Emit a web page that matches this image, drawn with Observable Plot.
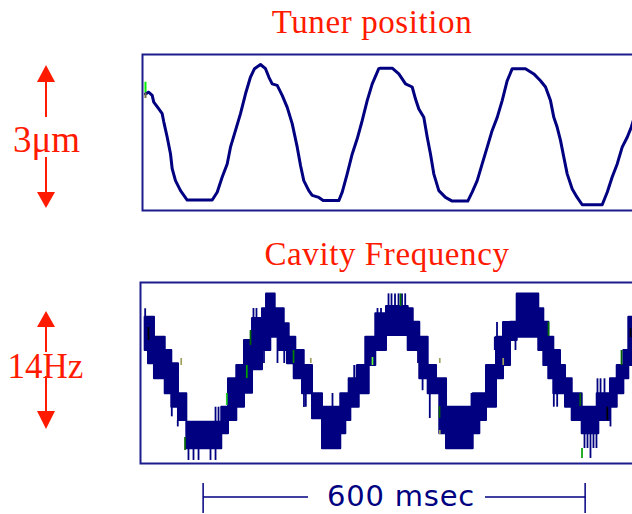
<!DOCTYPE html>
<html><head><meta charset="utf-8">
<script src="https://cdn.jsdelivr.net/npm/d3@7"></script>
<script src="https://cdn.jsdelivr.net/npm/@observablehq/plot@0.6"></script>
<style>
html,body{margin:0;padding:0;background:#fff;}
body{width:632px;height:514px;overflow:hidden;position:relative;}
#top,#bot{position:absolute;left:0;width:660px;}
#top{top:0;} #bot{top:230px;}
#overlay{position:absolute;left:0;top:0;}
</style></head><body>
<div id="top"></div><div id="bot"></div>
<svg id="overlay" width="632" height="514"></svg>
<script>
// ---- Tuner position (µm) vs time (ms)
const topT = [4.7,9.9,15.2,17.7,25.6,30.9,33.5,38.8,44.0,46.6,51.8,59.7,70.2,109.5,117.3,125.2,133.0,138.2,146.1,153.9,161.8,169.6,175.9,185.3,193.2,198.4,203.7,211.6,219.4,227.3,235.1,243.0,248.2,253.3,261.2,266.5,276.9,283.8,308.3,313.7,321.5,329.4,337.2,345.1,352.9,360.8,371.1,373.8,392.2,402.6,413.1,423.6,428.8,434.0,441.8,447.2,452.3,457.5,465.4,475.9,486.4,510.9,517.8,525.7,533.5,541.4,549.2,557.1,564.9,572.8,580.7,601.5,614.6,625.1,633.0,640.8,646.0,651.3,656.5,661.7,667.0,674.9,682.7,690.6,722.0,729.9,737.7,745.6,753.4,761.3,767.6,775.9];
const topPos = [2.23,2.26,2.20,2.07,1.94,1.85,1.69,1.40,1.08,0.80,0.57,0.38,0.20,0.20,0.35,0.64,0.89,1.21,1.53,1.85,2.23,2.55,2.71,2.79,2.71,2.55,2.42,2.39,2.20,1.97,1.66,1.21,0.86,0.57,0.38,0.29,0.25,0.19,0.19,0.35,0.70,1.08,1.37,1.72,2.10,2.42,2.71,2.72,2.72,2.61,2.42,2.36,2.13,1.94,1.78,1.40,1.08,0.70,0.38,0.25,0.18,0.18,0.35,0.57,0.89,1.21,1.53,1.78,2.10,2.48,2.71,2.71,2.61,2.48,2.36,2.10,1.78,1.59,1.34,1.02,0.70,0.41,0.25,0.11,0.11,0.35,0.64,0.89,1.21,1.40,1.59,1.91];
const topMarkT = [4.7, 4.7];
const topMarkFrom = [2.45, 2.24];
const topMarkTo = [2.25, 2.14];
const topMarkColor = ["#00ee00", "#707040"];

// ---- Cavity frequency (Hz): band of the noisy, quantised trace
const bandT = [4.2,9.4,18.8,35.7,46.0,56.5,69.6,124.5,135.1,148.1,160.2,172.8,188.5,194.8,201.5,208.4,214.7,222.6,227.7,230.4,238.3,240.8,251.3,254.0,267.0,282.7,311.4,319.3,324.6,327.2,337.7,340.4,350.7,356.1,366.4,383.2,417.3,425.2,435.5,448.7,461.8,466.9,477.5,519.4,529.8,540.3,556.0,567.0,578.0,588.5,622.4,630.3,638.1,646.0,656.5,664.4,674.9,690.6,714.2,716.7,735.0,745.6,756.0,763.8,782];
const bandHi = [6.62,6.62,4.25,2.67,1.09,-2.47,-5.84,-4.06,-0.69,0.89,3.86,6.46,7.62,9.39,9.39,7.62,7.62,5.84,5.84,4.25,4.25,2.67,2.67,0.89,-2.47,-4.06,-2.47,-2.47,-0.69,-0.69,0.89,0.89,4.25,4.25,7.02,7.89,7.62,6.03,4.25,0.89,-0.69,-0.69,-4.06,-2.47,-2.47,0.89,4.25,5.99,6.03,9.39,7.62,6.03,4.25,2.67,0.89,-0.69,-2.47,-4.06,-2.47,-2.47,-0.69,0.89,2.67,6.62,6.62];
const bandLo = [2.67,1.09,-0.69,-2.47,-4.06,-5.63,-8.99,-7.21,-5.63,-4.06,-2.40,0.40,2.67,2.67,4.25,4.25,2.67,2.67,1.09,1.09,-0.69,-0.69,-2.47,-2.47,-5.43,-8.99,-7.21,-5.63,-5.63,-4.06,-4.06,-2.47,-2.47,0.89,2.67,4.45,2.67,2.67,-0.69,-2.47,-2.47,-7.21,-8.99,-7.21,-5.63,-4.06,-0.69,0.89,3.86,4.25,2.67,0.89,-0.69,-2.47,-2.47,-4.06,-5.63,-7.21,-7.21,-5.63,-4.06,-2.47,-0.69,0.89,0.89];
// thin noise spikes
const spikeT    = [4.2,46.0,55.4,72.2,80.1,88.0,106.8,114.7,114.7,119.4,174.3,179.0,190.8,212.0,222.6,253.6,256.5,298.4,332.5,336.2,369.1,374.6,386.4,391.1,396.6,402.1,407.6,412.6,432.7,439.9,451.2,516.7,553.3,556.8,566.2,585.8,646.0,651.3,694.2,698.9,703.6,708.3,713.0,714.6,719.4,725.6,735.0];
const spikeFrom = [7.62,-4.06,-5.63,-8.96,-8.96,-8.96,-8.96,-8.96,-5.84,-5.84,7.65,7.65,2.67,4.25,2.67,-2.43,-2.47,-4.06,-0.69,-0.69,7.06,7.06,7.89,7.89,7.89,7.89,7.89,7.89,2.67,-0.69,-2.43,-4.06,2.67,4.25,4.25,4.25,-2.47,-2.47,-7.21,-7.21,-7.21,-7.21,-7.21,-2.47,-2.47,-2.47,-4.06];
const spikeTo   = [6.62,-5.20,-6.40,-10.38,-10.38,-10.38,-10.38,-10.38,-4.06,-4.06,6.46,6.46,1.13,1.13,1.13,-4.09,-4.06,-2.43,0.89,0.89,7.65,7.65,9.39,9.39,9.39,9.39,9.39,9.39,1.13,-2.10,-5.40,-2.43,4.25,5.99,5.99,2.67,-4.06,-4.06,-8.96,-8.96,-10.14,-8.96,-8.96,-0.69,-0.69,-0.69,-6.40];
// coloured samples
const markT     = [66.8,132.4,163.8,169.6,361.2,237.2,405.2,466.5,752.3,637.7,687.6,690.3,60.8,264.3,466.9,566.5,466.9,9.4,730.0,766.5];
const markFrom  = [-7.66,-2.43,0.89,5.04,1.84,2.67,9.39,-3.97,2.67,6.03,-2.43,-8.96,1.72,1.72,1.72,1.72,-6.82,5.40,-4.06,5.25];
const markTo    = [-9.19,-3.86,-0.65,3.26,0.89,1.13,7.89,-5.40,0.89,4.37,-3.97,-10.14,0.89,1.13,1.13,0.89,-7.30,3.86,-5.63,4.20];
const markColor = ["#006400","#22cc22","#00a000","#006400","#66ff33","#008000","#007000","#006000","#006400","#007000","#006400","#00a000","#a0a060","#a0a060","#a0a060","#a0a060","#a0a060","#000000","#000000","#000000"];

const titles = ["Tuner position", "Cavity Frequency"];
const scaleLabels = ["3\u03bcm", "14Hz"];
const barStart = 96, barLength = 600, barLabel = "600 msec";

const NAVY = "#000080", RED = "#ff1a00", FRAME = "#1c1c8c";
const xOpt = {domain: [0, 780], range: [142, 142 + 780 * 0.6367], axis: null};
const svgStyle = {background: "transparent", maxWidth: "none", overflow: "visible"};

const tuner = topT.map((t, i) => ({t, v: topPos[i]}));
const tunerMarks = topMarkT.map((t, i) => ({t, a: topMarkFrom[i], b: topMarkTo[i], c: topMarkColor[i]}));
const band = bandT.map((t, i) => ({t, hi: bandHi[i], lo: bandLo[i]}));
const spikes = spikeT.map((t, i) => ({t, a: spikeFrom[i], b: spikeTo[i]}));
const marks = markT.map((t, i) => ({t, a: markFrom[i], b: markTo[i], c: markColor[i]}));

const topPlot = Plot.plot({
  width: 660, height: 214, marginLeft: 142, marginRight: 18, marginTop: 54, marginBottom: 4,
  x: xOpt, y: {domain: [0, 3], range: [210, 53], axis: null}, color: {type: "identity"},
  style: svgStyle,
  marks: [
    Plot.frame({stroke: FRAME, strokeWidth: 2}),
    Plot.line(tuner, {x: "t", y: "v", stroke: NAVY, strokeWidth: 3, strokeLinejoin: "round"}),
    Plot.ruleX(tunerMarks, {x: "t", y1: "a", y2: "b", stroke: d => d.c, strokeWidth: 2})
  ]
});
document.getElementById("top").append(topPlot);

const botPlot = Plot.plot({
  width: 660, height: 284, marginLeft: 140, marginRight: 18, marginTop: 52, marginBottom: 51,
  x: xOpt, y: {domain: [-10.74, 10.74], axis: null}, color: {type: "identity"},
  style: svgStyle,
  marks: [
    Plot.frame({stroke: FRAME, strokeWidth: 2}),
    Plot.areaY(band, {x: "t", y1: "lo", y2: "hi", curve: "step-after", fill: NAVY, stroke: NAVY, strokeWidth: 2}),
    Plot.ruleX(spikes, {x: "t", y1: "a", y2: "b", stroke: NAVY, strokeWidth: 1.8}),
    Plot.ruleX(marks, {x: "t", y1: "a", y2: "b", stroke: d => d.c, strokeWidth: 1.7})
  ]
});
document.getElementById("bot").append(botPlot);

// ---- annotations
const ov = d3.select("#overlay");
const serif = "'Liberation Serif','Times New Roman',serif";
ov.append("text").attr("x", 372).attr("y", 33).attr("text-anchor", "middle")
  .attr("font-family", serif).attr("font-size", 33).attr("letter-spacing", 0.6).attr("fill", RED).text(titles[0]);
ov.append("text").attr("x", 387).attr("y", 265).attr("text-anchor", "middle")
  .attr("font-family", serif).attr("font-size", 33).attr("letter-spacing", 0.6).attr("fill", RED).text(titles[1]);

function vArrow(xc, tip1, base1, lineEnd1, lineStart2, base2, tip2) {
  ov.append("path").attr("d", `M${xc},${tip1}L${xc - 9},${base1}L${xc + 9},${base1}Z`).attr("fill", RED);
  ov.append("line").attr("x1", xc).attr("x2", xc).attr("y1", base1).attr("y2", lineEnd1).attr("stroke", RED).attr("stroke-width", 2);
  ov.append("line").attr("x1", xc).attr("x2", xc).attr("y1", lineStart2).attr("y2", base2).attr("stroke", RED).attr("stroke-width", 2);
  ov.append("path").attr("d", `M${xc - 9},${base2}L${xc + 9},${base2}L${xc},${tip2}Z`).attr("fill", RED);
}
vArrow(46, 65, 82, 117, 157, 192, 208);
vArrow(46, 311, 327, 352, 376, 411, 429);
ov.append("text").attr("x", 46.5).attr("y", 152).attr("text-anchor", "middle")
  .attr("font-family", serif).attr("font-size", 37).attr("fill", RED).text(scaleLabels[0]);
ov.append("text").attr("x", 45.5).attr("y", 378).attr("text-anchor", "middle")
  .attr("font-family", serif).attr("font-size", 35).attr("fill", RED).text(scaleLabels[1]);

// ---- time scale bar, positioned through the plot's own x scale
const sx = botPlot.scale("x");
const bx1 = sx.apply(barStart), bx2 = sx.apply(barStart + barLength);
const by = 497;
ov.append("line").attr("x1", bx1).attr("x2", 308).attr("y1", by).attr("y2", by).attr("stroke", NAVY).attr("stroke-width", 1.5);
ov.append("line").attr("x1", 485).attr("x2", bx2).attr("y1", by).attr("y2", by).attr("stroke", NAVY).attr("stroke-width", 1.5);
ov.append("line").attr("x1", bx1).attr("x2", bx1).attr("y1", 483).attr("y2", 513).attr("stroke", NAVY).attr("stroke-width", 1.5);
ov.append("line").attr("x1", bx2).attr("x2", bx2).attr("y1", 483).attr("y2", 513).attr("stroke", NAVY).attr("stroke-width", 1.5);
ov.append("text").attr("x", 327).attr("y", 506).attr("font-family", "'DejaVu Sans',sans-serif")
  .attr("font-size", 29).attr("letter-spacing", 0.8).attr("fill", NAVY).text(barLabel);
</script>
</body></html>
